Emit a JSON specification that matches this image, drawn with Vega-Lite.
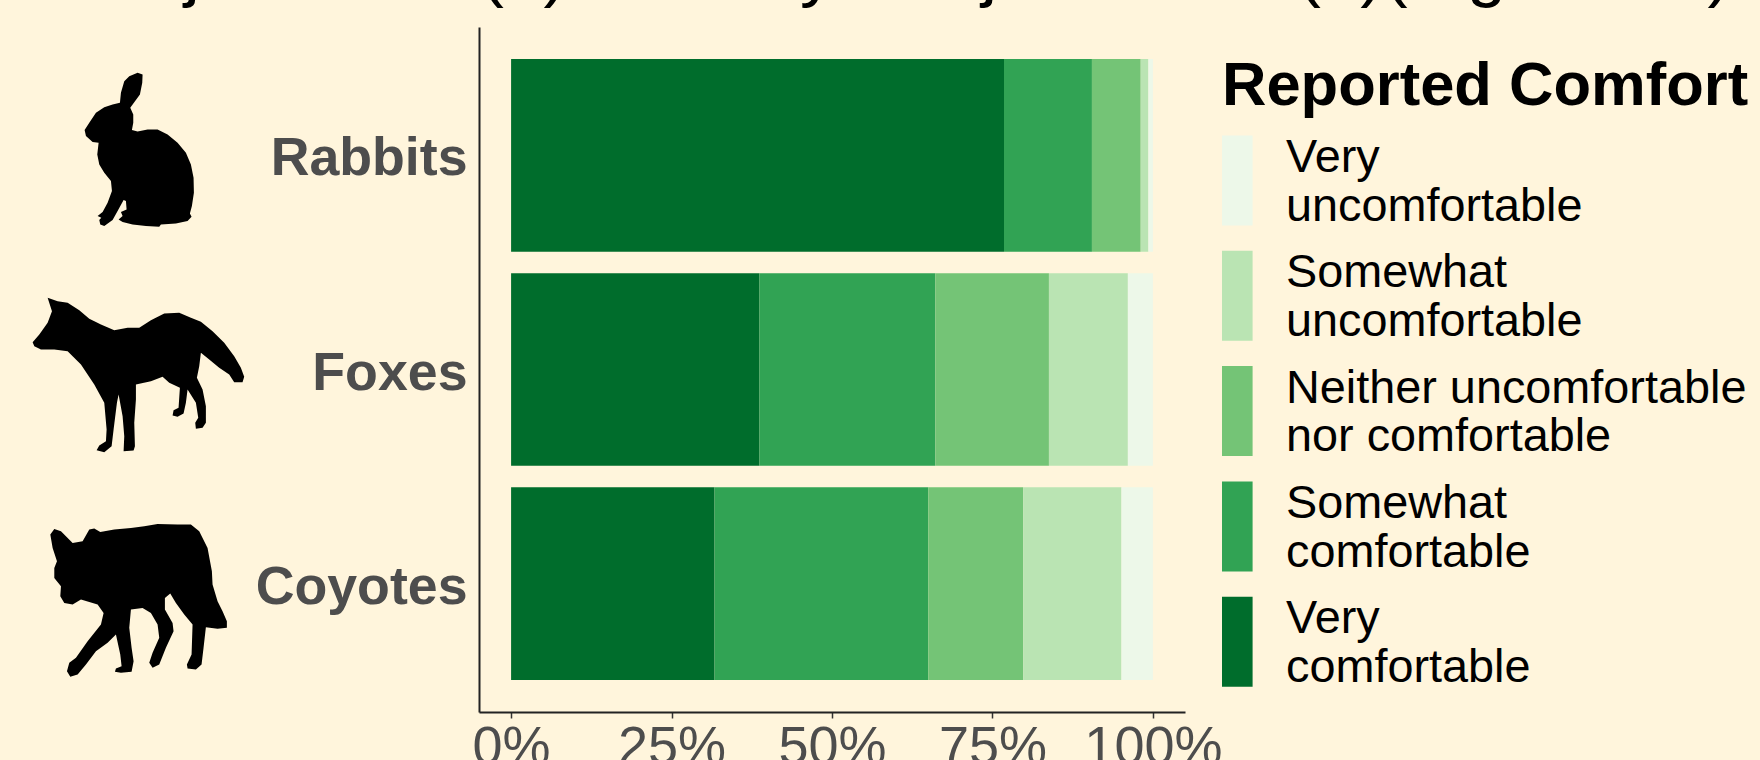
{
"$schema":"https://vega.github.io/schema/vega-lite/v6.json",
"background":"#FFF5DC",
"autosize":"none",
"padding":{"left":479,"top":27,"right":575,"bottom":48},
"width":706,
"height":685,
"title":{"text":"Subject Area (a)\u00A0 Identity Subject Area\u00A0 (b)(Figure 12)","anchor":"start","frame":"group","font":"Liberation Sans","fontSize":71,"fontWeight":"normal","color":"#000000","baseline":"alphabetic","offset":0,"dx":-421,"dy":37},
"config":{"view":{"stroke":null},"font":"Liberation Sans"},
"layer":[
{"data":{"values":[
{"animal":"Rabbits","comfort":"Very comfortable","rank":1,"share":0.768},
{"animal":"Rabbits","comfort":"Somewhat comfortable","rank":2,"share":0.137},
{"animal":"Rabbits","comfort":"Neither uncomfortable nor comfortable","rank":3,"share":0.076},
{"animal":"Rabbits","comfort":"Somewhat uncomfortable","rank":4,"share":0.012},
{"animal":"Rabbits","comfort":"Very uncomfortable","rank":5,"share":0.007},
{"animal":"Foxes","comfort":"Very comfortable","rank":1,"share":0.387},
{"animal":"Foxes","comfort":"Somewhat comfortable","rank":2,"share":0.274},
{"animal":"Foxes","comfort":"Neither uncomfortable nor comfortable","rank":3,"share":0.177},
{"animal":"Foxes","comfort":"Somewhat uncomfortable","rank":4,"share":0.123},
{"animal":"Foxes","comfort":"Very uncomfortable","rank":5,"share":0.039},
{"animal":"Coyotes","comfort":"Very comfortable","rank":1,"share":0.317},
{"animal":"Coyotes","comfort":"Somewhat comfortable","rank":2,"share":0.333},
{"animal":"Coyotes","comfort":"Neither uncomfortable nor comfortable","rank":3,"share":0.148},
{"animal":"Coyotes","comfort":"Somewhat uncomfortable","rank":4,"share":0.153},
{"animal":"Coyotes","comfort":"Very uncomfortable","rank":5,"share":0.049}
]},
"mark":{"type":"bar","opacity":1},
"encoding":{
"y":{"field":"animal","type":"nominal","title":null,"scale":{"domain":["Rabbits","Foxes","Coyotes"],"paddingInner":0.1,"paddingOuter":0.15},
"axis":{"domainColor":"#222222","domainWidth":2,"ticks":false,"labelPadding":12,"labelOffset":4,"labelFontSize":53.7,"labelFontWeight":"bold","labelColor":"#4D4D4D","labelFont":"Liberation Sans","labelLimit":400,"grid":false}},
"x":{"field":"share","type":"quantitative","stack":"zero","title":null,"scale":{"domain":[-0.05,1.05],"nice":false,"zero":false},
"axis":{"values":[0,0.25,0.5,0.75,1],"format":".0%","domainColor":"#222222","domainWidth":2,"tickColor":"#333333","tickSize":6,"tickWidth":1.5,"labelPadding":2,"labelFontSize":54,"labelColor":"#4D4D4D","labelFont":"Liberation Sans","labelBaseline":"top","labelFlush":false,"labelOverlap":false,"grid":false}},
"order":{"field":"rank","type":"ordinal"},
"color":{"field":"comfort","type":"nominal","title":"Reported Comfort",
"scale":{"domain":["Very uncomfortable","Somewhat uncomfortable","Neither uncomfortable nor comfortable","Somewhat comfortable","Very comfortable"],"range":["#EDF8E9","#BAE4B3","#74C476","#31A354","#006D2C"]},
"legend":{"orient":"none","legendX":743,"legendY":29,"padding":0,"titleFont":"Liberation Sans","titleFontSize":61.5,"titleFontWeight":"bold","titleColor":"#000000","titleLimit":700,"titlePadding":19.5,"labelFont":"Liberation Sans","labelFontSize":46.8,"labelColor":"#000000","labelLimit":600,"labelOffset":-26,"labelBaseline":"bottom","symbolType":"M-1,-1.033L-0.32,-1.033L-0.32,0.967L-1,0.967Z","symbolSize":8100,"symbolStrokeWidth":0,"symbolOpacity":1,"rowPadding":19.3,
"encoding":{"labels":{"update":{"lineHeight":{"value":50.5}}}},
"labelExpr":"datum.label=='Neither uncomfortable nor comfortable'?['Neither uncomfortable','nor comfortable']:split(datum.label,' ')"}}
}},
{"data":{"values":[{"animal":"Rabbits"},{"animal":"Foxes"},{"animal":"Coyotes"}]},
"mark":{"type":"point","filled":true,"opacity":1,"color":"#000000","size":0.444,"strokeWidth":0},
"encoding":{
"y":{"field":"animal","type":"nominal"},
"x":{"datum":-0.57,"type":"quantitative"},
"shape":{"field":"animal","type":"nominal","legend":null,"scale":{"domain":["Rabbits","Foxes","Coyotes"],"range":[
"M-23,-248L-8,-243L-9,-218L-16,-183L-33,-160L-45,-143L-36,-123L-36,-98L-40,-76L-23,-72L7,-78L37,-78L67,-63L97,-38L122,-8L137,27L145,67L146,112L140,152L134,174L139,184L127,197L92,204L47,207L42,214L2,212L-38,207L-68,200L-80,192L-68,182L-73,170L-56,162L-58,137L-65,134L-83,167L-98,194L-123,212L-135,207L-138,194L-132,187L-143,182L-128,170L-113,142L-100,107L-103,77L-123,52L-138,27L-144,-3L-140,-38L-158,-40L-178,-58L-182,-76L-168,-98L-148,-128L-123,-145L-98,-153L-76,-158L-73,-188L-63,-223L-48,-238Z",
"M-293,-215L-263,-205L-233,-200L-198,-178L-168,-152L-133,-135L-93,-118L-53,-125L-18,-125L17,-148L57,-168L102,-170L137,-155L167,-143L202,-115L237,-80L267,-40L287,-5L297,22L292,38L267,38L252,15L222,-5L192,-30L167,-50L162,-10L155,25L172,60L182,110L182,160L172,175L152,178L150,160L159,145L152,100L127,60L122,100L115,132L97,142L82,138L85,122L100,115L104,55L72,40L52,22L17,35L-28,45L-28,90L-33,160L-31,230L-35,243L-65,245L-63,200L-68,140L-80,75L-85,100L-95,180L-101,230L-123,248L-146,242L-138,228L-118,215L-116,180L-123,100L-153,45L-193,-15L-233,-55L-273,-60L-313,-60L-333,-70L-338,-82L-318,-105L-293,-140L-280,-175Z",
"M-273,-164L-253,-157L-218,-122L-188,-127L-168,-162L-153,-165L-135,-155L-93,-162L-43,-167L-3,-172L37,-179L97,-177L137,-177L162,-157L187,-107L200,-37L202,3L217,53L232,83L245,113L245,133L217,136L182,131L175,193L169,243L152,258L127,255L125,243L139,213L142,123L117,93L92,58L75,30L59,43L59,78L82,118L85,143L62,193L42,243L22,253L12,238L22,208L42,163L37,123L17,88L-8,73L-43,78L-48,133L-41,193L-35,233L-41,265L-73,268L-91,265L-88,255L-71,248L-75,213L-88,153L-113,178L-148,203L-178,243L-203,273L-225,280L-235,263L-228,238L-208,223L-173,173L-133,123L-125,88L-143,63L-193,48L-218,63L-243,58L-255,38L-253,8L-273,-17L-273,-47L-265,-67L-278,-107L-285,-147Z"
]}}
}}
]
}
